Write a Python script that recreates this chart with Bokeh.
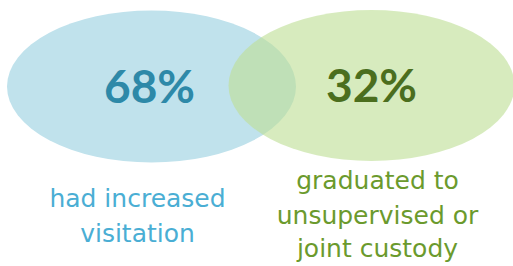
from bokeh.plotting import figure
from bokeh.models import Range1d, ColumnDataSource
from bokeh.core.properties import value
from bokeh.embed import file_html
from bokeh.resources import INLINE

# ---- data ----
groups = ["visitation", "custody"]
percents = [68, 32]
blue_label = ["had increased", "visitation"]
green_label = ["graduated to", "unsupervised or", "joint custody"]

# ---- layout (screen-pixel-like coordinates; y measured from top of page) ----
W, H = 513, 266
def sy(v):
    return H - v

ell_x = [151, 371]
ell_y = [sy(86), sy(85)]
ell_w = [289, 286]
ell_h = [152, 151]
ell_colors = ["#c0e2ec", "#bedf96"]
ell_alpha = [1.0, 0.62]

num_x = [149, 371]
num_y = [sy(85), sy(84)]
num_colors = ["#2d89a8", "#4b6e1e"]

p = figure(width=W, height=H, output_backend="svg", toolbar_location=None,
           x_range=Range1d(0, W), y_range=Range1d(0, H), min_border=0)
p.axis.visible = False
p.grid.visible = False
p.outline_line_color = None
p.background_fill_color = "white"
p.border_fill_color = "white"

p.ellipse(x=ell_x, y=ell_y, width=ell_w, height=ell_h,
          fill_color=ell_colors, fill_alpha=ell_alpha, line_color=None)

src = ColumnDataSource(dict(x=num_x, y=num_y, t=[f"{v}%" for v in percents], c=num_colors))
p.text(x="x", y="y", text="t", text_color="c", source=src,
       text_font=value("Lato"), text_font_style="bold", text_font_size="46px",
       text_align="center", text_baseline="middle")

p.text(x=[137] * len(blue_label), y=[sy(198), sy(233)], text=blue_label,
       text_color="#4aaed4", text_font=value("DejaVu Sans"), text_font_size="25px",
       text_align="center", text_baseline="middle")

p.text(x=[377] * len(green_label), y=[sy(180), sy(215), sy(248)], text=green_label,
       text_color="#6b9a2d", text_font=value("DejaVu Sans"), text_font_size="25px",
       text_align="center", text_baseline="middle")

open("out.html", "w").write(file_html(p, INLINE))
